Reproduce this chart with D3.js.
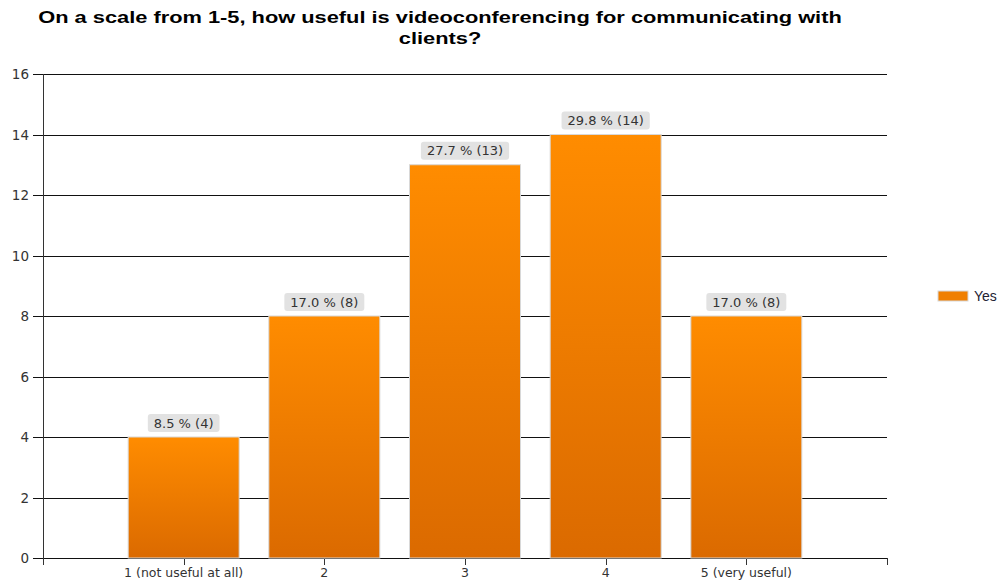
<!DOCTYPE html>
<html><head><meta charset="utf-8">
<script src="https://cdn.jsdelivr.net/npm/d3@7"></script>
<style>body{margin:0;background:#fff}svg{display:block}</style>
</head><body>
<svg id="c" width="1000" height="581"></svg>
<script>
const titleLines = ["On a scale from 1-5, how useful is videoconferencing for communicating with", "clients?"];
const categories = ["1 (not useful at all)", "2", "3", "4", "5 (very useful)"];
const values = [4, 8, 13, 14, 8];
const percents = ["8.5 %", "17.0 %", "27.7 %", "29.8 %", "17.0 %"];
const yTicks = [0, 2, 4, 6, 8, 10, 12, 14, 16];
const seriesName = "Yes";

(function () {
const svg = d3.select("#c");
const pl = 43, pr = 887, pt = 74, pb = 558;

const defs = svg.append("defs");
const g = defs.append("linearGradient").attr("id", "bg").attr("x1", 0).attr("y1", 0).attr("x2", 0).attr("y2", 1);
g.append("stop").attr("offset", "0%").attr("stop-color", "#ff8c00");
g.append("stop").attr("offset", "100%").attr("stop-color", "#db6a00");

const tt = svg.selectAll("text.title").data(titleLines).join("text")
  .attr("class", "title")
  .attr("x", 440).attr("y", (d, i) => 23 + i * 21)
  .attr("text-anchor", "middle")
  .style("font-family", "Liberation Sans, Arial, sans-serif")
  .style("font-weight", "bold").style("font-size", "17px").attr("fill", "#000")
  .text(d => d);
tt.each(function () {
  const w = this.getComputedTextLength();
  d3.select(this).attr("textLength", w * 1.283).attr("lengthAdjust", "spacingAndGlyphs");
});

const y = d3.scaleLinear().domain([0, 16]).range([pb, pt]);
const xs = d3.scaleLinear().domain([0, categories.length + 1]).range([pl, pr]);

svg.append("g").selectAll("line").data(yTicks).join("line")
  .attr("x1", pl - 10).attr("x2", pr)
  .attr("y1", d => Math.round(y(d)) + 0.5).attr("y2", d => Math.round(y(d)) + 0.5)
  .attr("stroke", "#111").attr("stroke-width", 1);

svg.append("g").selectAll("text").data(yTicks).join("text")
  .attr("x", 29).attr("y", d => y(d) + 5)
  .attr("text-anchor", "end")
  .style("font-family", "DejaVu Sans, Verdana, sans-serif").style("font-size", "13.5px")
  .attr("fill", "#333").text(d => d);

svg.append("line").attr("x1", pl + 0.5).attr("x2", pl + 0.5).attr("y1", pt).attr("y2", pb + 6)
  .attr("stroke", "#333");

const xTickPos = d3.range(0, categories.length + 2);
svg.append("g").selectAll("line").data(xTickPos).join("line")
  .attr("x1", d => Math.round(xs(d)) + 0.5).attr("x2", d => Math.round(xs(d)) + 0.5)
  .attr("y1", pb).attr("y2", pb + 7)
  .attr("stroke", "#333");

const bw = 111;
svg.append("g").selectAll("rect").data(values).join("rect")
  .attr("x", (d, i) => xs(i + 1) - bw / 2)
  .attr("y", d => y(d))
  .attr("width", bw)
  .attr("height", d => pb - y(d))
  .attr("fill", "url(#bg)")
  .attr("stroke", "#d8d8d8").attr("stroke-width", 1);

const lab = svg.append("g").selectAll("g").data(values).join("g")
  .attr("transform", (d, i) => `translate(${xs(i + 1)},${y(d) - 14})`);
lab.append("rect").attr("rx", 3).attr("ry", 3).attr("fill", "#e2e2e2");
lab.append("text").attr("text-anchor", "middle").attr("y", 4.5)
  .style("font-family", "DejaVu Sans, Verdana, sans-serif").style("font-size", "13px")
  .attr("fill", "#333")
  .text((d, i) => `${percents[i]} (${d})`);
lab.each(function () {
  const t = d3.select(this).select("text").node().getBBox();
  d3.select(this).select("rect").attr("x", t.x - 6).attr("y", -9).attr("width", t.width + 12).attr("height", 18);
});

svg.append("g").selectAll("text").data(categories).join("text")
  .attr("x", (d, i) => xs(i + 1)).attr("y", 577)
  .attr("text-anchor", "middle")
  .style("font-family", "DejaVu Sans, Verdana, sans-serif").style("font-size", "12.5px")
  .attr("fill", "#333").text(d => d);

svg.append("rect").attr("x", 938).attr("y", 291).attr("width", 30).attr("height", 10)
  .attr("fill", "#f07f00").attr("stroke", "#d8d8d8");
svg.append("text").attr("x", 974).attr("y", 301)
  .style("font-family", "Liberation Sans, Arial, sans-serif").style("font-size", "14px")
  .attr("fill", "#223").text(seriesName);
})();
</script>
</body></html>
